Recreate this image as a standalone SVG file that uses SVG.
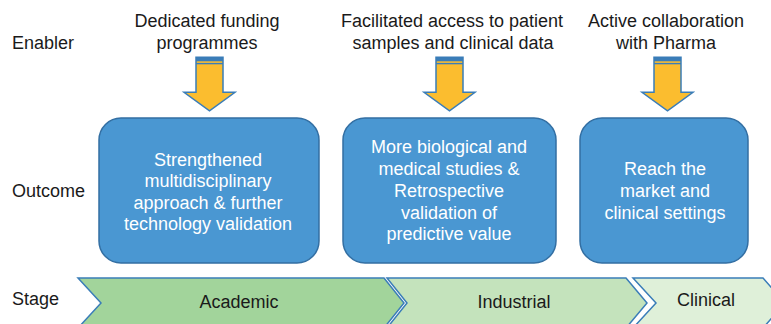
<svg xmlns="http://www.w3.org/2000/svg" width="771" height="324" viewBox="0 0 771 324">
<defs>
<style>
.lbl{font-family:"Liberation Sans",Arial,sans-serif;font-size:18px;fill:#1a1a1a}
.hdr{font-family:"Liberation Sans",Arial,sans-serif;font-size:18px;fill:#1a1a1a;text-anchor:middle}
.box{fill:#4a97d2;stroke:#336fa3;stroke-width:1.5}
.btxt{font-family:"Liberation Sans",Arial,sans-serif;font-size:18px;fill:#ffffff;text-anchor:middle}
.arr{fill:#fbbd2f;stroke:#3a7db8;stroke-width:1.5;stroke-linejoin:miter}
.stripe{fill:#3a7db8}
.chev{stroke:#3a7db8;stroke-width:1.5}
.stxt{font-family:"Liberation Sans",Arial,sans-serif;font-size:18px;fill:#1a1a1a;text-anchor:middle}
</style>
<g id="arrowShape">
<polygon class="arr" points="-13.5,0 13.5,0 13.5,35 25.5,35 0,53.5 -25.5,35 -13.5,35"/>
<rect class="stripe" x="-13.5" y="0" width="27" height="4"/>
<rect class="stripe" x="-13.5" y="5.6" width="27" height="1.4"/>
</g>
</defs>

<g id="row-labels">
<text class="lbl" x="12" y="49">Enabler</text>
<text class="lbl" x="12" y="197">Outcome</text>
<text class="lbl" x="12" y="305">Stage</text>
</g>

<g id="enabler1">
<text class="hdr" x="207" y="27">Dedicated funding</text>
<text class="hdr" x="207" y="49">programmes</text>
</g>
<g id="enabler2">
<text class="hdr" x="452" y="27">Facilitated access to patient</text>
<text class="hdr" x="453" y="49">samples and clinical data</text>
</g>
<g id="enabler3">
<text class="hdr" x="666" y="27">Active collaboration</text>
<text class="hdr" x="666" y="49">with Pharma</text>
</g>

<g id="connectors">
<use href="#arrowShape" x="209.5" y="57.3"/>
<use href="#arrowShape" x="449.5" y="57.3"/>
<use href="#arrowShape" x="667.5" y="57.3"/>
</g>

<g id="outcome1">
<rect class="box" x="99" y="118" width="220" height="145" rx="22"/>
<text class="btxt" x="208" y="165.5">Strengthened</text>
<text class="btxt" x="208" y="187">multidisciplinary</text>
<text class="btxt" x="208" y="208.5">approach &amp; further</text>
<text class="btxt" x="208" y="230">technology validation</text>
</g>
<g id="outcome2">
<rect class="box" x="343" y="118" width="213" height="145" rx="22"/>
<text class="btxt" x="449" y="153">More biological and</text>
<text class="btxt" x="449" y="175">medical studies &amp;</text>
<text class="btxt" x="449" y="197">Retrospective</text>
<text class="btxt" x="449" y="219">validation of</text>
<text class="btxt" x="449" y="240">predictive value</text>
</g>
<g id="outcome3">
<rect class="box" x="580" y="118" width="168" height="145" rx="22"/>
<text class="btxt" x="665" y="175">Reach the</text>
<text class="btxt" x="665" y="197">market and</text>
<text class="btxt" x="665" y="219">clinical settings</text>
</g>

<g id="stage-academic">
<polygon class="chev" fill="#a2d49b" points="78,278 384,278 404,303 384,328 78,328 101,303"/>
<text class="stxt" x="239" y="308">Academic</text>
</g>
<g id="stage-industrial">
<polygon class="chev" fill="#c4e3bc" points="387,278 626,278 647,303 626,328 387,328 407,303"/>
<text class="stxt" x="514" y="308">Industrial</text>
</g>
<g id="stage-clinical">
<polygon class="chev" fill="#dff0d9" points="633,278 763,278 785,303 763,328 633,328 656,303"/>
<text class="stxt" x="706" y="306">Clinical</text>
</g>
</svg>
